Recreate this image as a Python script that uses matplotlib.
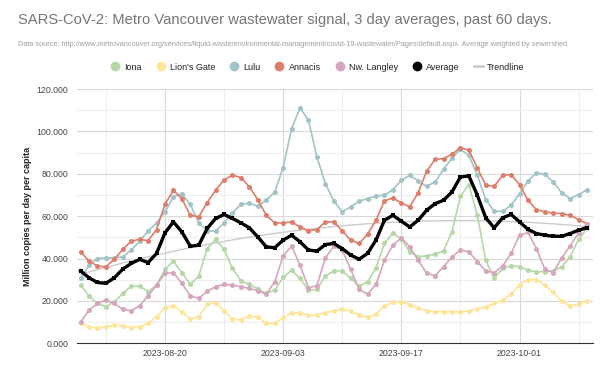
import matplotlib
matplotlib.use("Agg")
import matplotlib.pyplot as plt
from matplotlib.lines import Line2D
import numpy as np
import pandas as pd

plt.rcParams['font.family'] = ['Liberation Sans', 'DejaVu Sans']

dates = pd.date_range('2023-08-10', periods=61, freq='D')

iona = [27.5, 22.3, 18.8, 17.3, 19.6, 23.5, 27.0, 27.0, 24.3, 27.5,
        34.9, 38.8, 33.3, 27.8, 31.7, 44.7, 49.0, 44.3, 35.3, 29.5,
        27.8, 25.6, 23.5, 25.1, 31.1, 34.5, 30.6, 25.1, 25.4, 31.7,
        34.2, 34.2, 30.6, 27.0, 29.0, 35.6, 47.1, 52.1, 49.1, 43.2,
        40.8, 41.3, 42.1, 43.6, 52.6, 69.4, 74.9, 60.4, 39.2, 30.6,
        35.3, 36.6, 36.1, 34.5, 33.8, 33.8, 34.1, 36.1, 40.8, 49.1, 54.2]

lions_gate = [9.4, 7.8, 7.1, 7.8, 8.6, 8.3, 7.4, 7.8, 9.4, 12.6,
              16.8, 17.7, 14.9, 11.5, 12.6, 18.4, 19.2, 15.4, 11.3, 11.0,
              12.9, 12.2, 9.4, 9.4, 12.1, 14.4, 14.4, 13.3, 13.3, 14.4,
              15.4, 16.0, 15.2, 13.3, 12.2, 13.7, 17.6, 19.3, 19.6, 18.1,
              16.5, 15.4, 14.9, 14.9, 14.9, 14.9, 15.2, 16.2, 17.3, 18.8,
              20.4, 23.1, 27.5, 30.1, 30.1, 27.5, 24.0, 19.9, 17.7, 18.5, 20.1]

lulu = [30.6, 36.9, 40.0, 40.3, 40.3, 40.8, 44.0, 48.2, 53.0, 56.8,
        62.0, 69.0, 70.6, 65.5, 57.0, 53.0, 53.0, 56.8, 61.5, 65.6,
        66.0, 64.8, 67.5, 71.4, 82.9, 101.3, 111.0, 105.3, 87.9, 75.4,
        67.2, 62.0, 64.4, 67.0, 68.3, 69.4, 69.9, 72.5, 76.9, 79.3,
        76.6, 74.1, 76.1, 82.1, 87.4, 91.5, 88.7, 79.3, 67.8, 62.3,
        62.3, 65.1, 70.6, 76.5, 80.5, 79.7, 76.1, 71.0, 68.3, 70.2, 72.5]

annacis = [43.2, 38.9, 36.4, 36.1, 39.7, 44.3, 48.2, 49.1, 48.4, 53.7,
           65.6, 72.2, 68.3, 60.4, 59.7, 66.4, 72.2, 77.2, 79.3, 78.2,
           73.8, 67.8, 60.4, 56.8, 56.8, 57.3, 54.9, 53.1, 53.7, 57.3,
           57.3, 53.1, 48.7, 47.1, 51.5, 58.1, 67.2, 68.6, 66.2, 64.4,
           71.1, 81.3, 86.8, 87.1, 89.2, 92.3, 91.1, 82.7, 74.6, 74.1,
           79.3, 79.6, 74.9, 67.5, 63.1, 62.0, 61.5, 61.2, 60.4, 58.4, 56.5]

nw_langley = [9.9, 15.7, 18.8, 20.4, 18.8, 16.0, 15.4, 17.7, 22.4, 27.5,
              33.0, 33.4, 28.3, 22.4, 21.2, 24.6, 26.7, 27.8, 27.5, 26.7,
              25.9, 24.8, 23.2, 29.0, 41.3, 45.8, 36.9, 26.2, 27.2, 40.3,
              45.8, 44.0, 34.9, 25.4, 23.2, 27.8, 39.2, 46.3, 49.8, 45.5,
              39.2, 33.0, 31.9, 36.1, 40.8, 44.0, 43.2, 38.5, 34.1, 33.4,
              36.4, 42.4, 51.0, 52.3, 44.7, 35.0, 33.4, 40.3, 46.0, 52.1, 56.5]

average = [34.2, 30.9, 28.7, 28.3, 30.9, 35.0, 37.7, 39.6, 38.1, 42.4,
           52.1, 57.3, 52.6, 45.8, 46.3, 54.2, 58.9, 60.8, 58.9, 56.8,
           54.5, 50.2, 45.5, 45.1, 48.7, 51.0, 47.9, 44.0, 43.5, 46.6,
           47.1, 44.7, 41.6, 39.7, 42.4, 48.7, 58.1, 60.4, 57.6, 54.9,
           58.1, 62.8, 65.9, 67.5, 71.4, 78.5, 79.0, 69.9, 59.2, 54.5,
           59.2, 60.8, 57.3, 53.8, 51.8, 51.0, 50.5, 50.5, 51.8, 53.4, 54.5]

series_names = ['Iona', "Lion's Gate", 'Lulu', 'Annacis', 'Nw. Langley']
series_values = [iona, lions_gate, lulu, annacis, nw_langley]
series_colors = ['#b6d7a8', '#ffe599', '#a2c4c9', '#dd7e6b', '#d5a6bd']

y_ticks = [0, 20, 40, 60, 80, 100, 120]
y_tick_labels = ['0.000', '20.000', '40.000', '60.000', '80.000', '100.000', '120.000']

title = 'SARS-CoV-2: Metro Vancouver wastewater signal, 3 day averages, past 60 days.'
subtitle = ('Data source: http://www.metrovancouver.org/services/liquid-waste/environmental-management/'
            'covid-19-wastewater/Pages/default.aspx. Average weighted by sewershed')

fig = plt.figure(figsize=(6.11, 3.77), dpi=100)
ax = fig.add_axes([0.1255, 0.0894, 0.8445, 0.6745])

# trendline (polynomial fit of the average)
xnum = np.arange(len(average))
coef = np.polyfit(xnum, average, 2)
trend = np.polyval(coef, xnum)
ax.plot(dates, trend, color='#cccccc', lw=1.0, zorder=2)

for name, vals, col in zip(series_names, series_values, series_colors):
    ax.plot(dates, vals, color=col, lw=1.2, marker='o', markersize=3.6,
            markeredgewidth=0, zorder=3)

ax.plot(dates, average, color='black', lw=2.4, marker='s', markersize=2.2,
        markeredgewidth=0, zorder=4)

x0 = dates[0] - pd.Timedelta(hours=11)
x1 = dates[-1] + pd.Timedelta(hours=16)
ax.set_xlim(x0, x1)
ax.set_ylim(0, 120)

major_dates = pd.date_range('2023-08-20', '2023-10-01', freq='14D')
minor_dates = pd.date_range('2023-08-13', '2023-10-08', freq='14D')
ax.set_xticks(major_dates)
ax.set_xticklabels([d.strftime('%Y-%m-%d') for d in major_dates])
ax.set_xticks(minor_dates, minor=True)
ax.set_yticks(y_ticks)
ax.set_yticklabels(y_tick_labels)
ax.set_yticks(np.arange(10, 120, 20), minor=True)

ax.grid(which='major', color='#d9d9d9', lw=0.8, zorder=0)
ax.grid(which='minor', color='#eeeeee', lw=0.8, zorder=0)
ax.set_axisbelow(True)

for s in ['top', 'right', 'left']:
    ax.spines[s].set_visible(False)
ax.spines['bottom'].set_color('#333333')
ax.spines['bottom'].set_linewidth(0.8)

ax.tick_params(axis='both', which='both', length=0, labelsize=6.3, labelcolor='#444444')
ax.tick_params(axis='x', pad=4)
ax.tick_params(axis='y', pad=6)

ax.set_ylabel('Million copies per day per capita', fontsize=6.5, fontweight='bold',
              color='#222222', labelpad=3)

fig.text(18 / 611, 1 - 20 / 377, title, fontsize=10.6, color='#757575', va='center', ha='left')
fig.text(18 / 611, 1 - 45 / 377, subtitle, fontsize=5.3, color='#9e9e9e', va='center', ha='left')

handles = [Line2D([], [], color=c, marker='o', linestyle='', markersize=6) for c in series_colors]
handles.append(Line2D([], [], color='black', marker='o', linestyle='', markersize=6))
handles.append(Line2D([], [], color='#cccccc', lw=2))
labels = series_names + ['Average', 'Trendline']
fig.legend(handles, labels, loc='center', bbox_to_anchor=(0.52, 1 - 67 / 377), ncol=7,
           frameon=False, fontsize=6.5, handlelength=1.0, handletextpad=0.5,
           columnspacing=1.6, labelcolor='#222222')

fig.savefig('out.png', dpi=100)
